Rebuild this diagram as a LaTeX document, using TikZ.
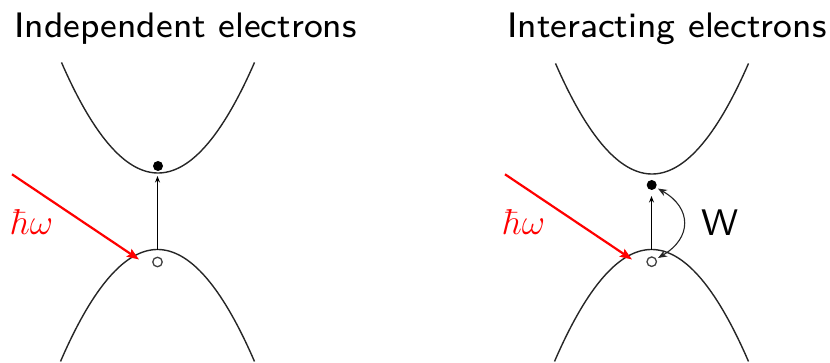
\RequirePackage{fix-cm}
\documentclass[tikz,border=0pt]{standalone}
\usepackage{fontspec}
\newfontfamily\ttlfont{lmsans8-regular.otf}
\usetikzlibrary{arrows.meta}
\begin{document}
\begin{tikzpicture}[x=1pt,y=-1pt,
  band/.style={line width=1.4pt, black!85},
  title/.style={anchor=base west, inner sep=0pt, font=\fontsize{35.4}{40}\selectfont\ttlfont},
  wlabel/.style={anchor=base west, inner sep=0pt, font=\fontsize{37}{40}\selectfont\ttlfont},
  label/.style={anchor=base west, inner sep=0pt, font=\fontsize{36}{40}\selectfont},
  elec/.style={circle, fill=black, inner sep=0pt, minimum size=10pt},
  hole/.style={circle, draw=black!75, line width=1.3pt, inner sep=0pt, minimum size=9.5pt},
  trans/.style={-{Stealth[length=6.5pt,width=5pt]}, line width=1.1pt},
  photon/.style={red, line width=2.2pt, -{Stealth[length=12pt,width=9pt,inset=2pt]}},
  wcurve/.style={{Stealth[length=9pt,width=7pt]}-{Stealth[length=9pt,width=7pt]}, line width=1.1pt, black!85, shorten <=2pt, shorten >=2pt}
  ]
\useasboundingbox (0,0) rectangle (830,363);

% titles
\node[title] (t1) at (14,37.3) {Independent electrons};
\node[title] (t2) at (507,37.3) {Interacting electrons};

% left bands
\draw[band] plot[domain=-96.5:96.5, samples=80, smooth] ({158+\x},{173-0.01187*\x*\x});
\draw[band] plot[domain=-97:97, samples=80, smooth] ({157.5+\x},{249.5+0.0119*\x*\x});
% right bands
\draw[band] plot[domain=-96.5:96.5, samples=80, smooth] ({652+\x},{174-0.01187*\x*\x});
\draw[band] plot[domain=-97:97, samples=80, smooth] ({651.5+\x},{249.5+0.0119*\x*\x});

% left panel
\node[elec] (e1) at (158,166) {};
\node[hole] (h1) at (157.5,262) {};
\coordinate (vb1) at (157.5,250);
\coordinate (cb1) at (157.5,176);
\draw[trans] (vb1) -- (cb1);
\coordinate (p1s) at (12,174.3);
\coordinate (p1e) at (139,259.5);
\draw[photon] (p1s) -- (p1e);
\node[label, red] (hw1) at (11,235) {$\hbar\omega$};

% right panel
\node[elec] (e2) at (651.7,185) {};
\node[hole] (h2) at (651.7,261.7) {};
\coordinate (vb2) at (651.5,250);
\coordinate (cb2) at (651.5,196);
\draw[trans] (vb2) -- (cb2);
\coordinate (p2s) at (505,174.3);
\coordinate (p2e) at (632,259.5);
\draw[photon] (p2s) -- (p2e);
\node[label, red] (hw2) at (503,235) {$\hbar\omega$};
\draw[wcurve] (e2) .. controls (692,208) and (692,238) .. (h2);
\node[wlabel] (w) at (701,236) {W};
\end{tikzpicture}
\end{document}
